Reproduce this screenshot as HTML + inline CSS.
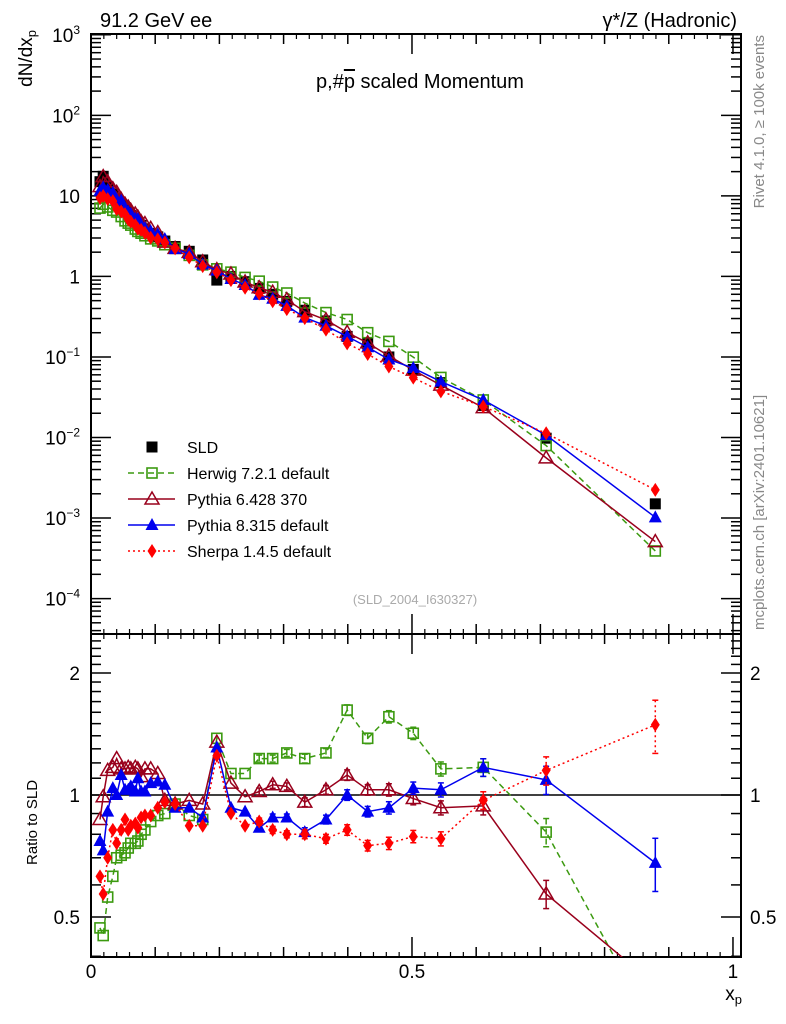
<!DOCTYPE html>
<html><head><meta charset="utf-8">
<style>
html,body{margin:0;padding:0;background:#fff;overflow:hidden;}
svg{display:block;font-family:"Liberation Sans",sans-serif;}
</style></head>
<body>
<svg id="chart" width="786" height="1024" viewBox="0 0 786 1024" xmlns="http://www.w3.org/2000/svg">
<text x="100" y="27" font-size="20">91.2 GeV ee</text>
<text x="737" y="27" font-size="20" text-anchor="end">γ*/Z (Hadronic)</text>
<text x="420" y="88" font-size="20" text-anchor="middle">p,#<tspan text-decoration="overline">p</tspan> scaled Momentum</text>
<text transform="translate(764,35) rotate(-90)" font-size="15" fill="#888" text-anchor="end">Rivet 4.1.0, ≥ 100k events</text>
<text transform="translate(764,630) rotate(-90)" font-size="15" fill="#888">mcplots.cern.ch [arXiv:2401.10621]</text>
<text x="415" y="604" font-size="13" fill="#aaa" text-anchor="middle">(SLD_2004_I630327)</text>
<text transform="translate(32,30) rotate(-90)" font-size="19" text-anchor="end">dN/dx<tspan font-size="13" dy="4">p</tspan></text>
<text transform="translate(37,865) rotate(-90)" font-size="15">Ratio to SLD</text>
<text x="742" y="1000" font-size="19" text-anchor="end">x<tspan font-size="13" dy="4">p</tspan></text>
<g id="main"></g>
<g id="ratio"></g>
<g id="legend"></g>
</svg>
<script>
const xVals=[0.014,0.019,0.026,0.034,0.040,0.047,0.053,0.058,0.062,0.069,0.073,0.078,0.084,0.093,0.104,0.115,0.131,0.153,0.174,0.196,0.218,0.240,0.262,0.283,0.305,0.333,0.366,0.399,0.431,0.464,0.502,0.545,0.611,0.709,0.879];
const sldVals=[15,17.5,13,10.5,9,7.8,6.8,6.2,5.7,5.1,4.7,4.3,3.9,3.4,3.1,2.75,2.35,2.05,1.6,0.9,1.0,0.86,0.71,0.6,0.49,0.38,0.28,0.18,0.145,0.1,0.07,0.048,0.025,0.0098,0.0015];
const herwigRatio=[0.47,0.45,0.56,0.63,0.70,0.71,0.72,0.74,0.76,0.76,0.77,0.80,0.82,0.86,0.89,0.90,0.95,0.89,0.87,1.38,1.13,1.13,1.23,1.23,1.27,1.23,1.27,1.62,1.38,1.56,1.42,1.16,1.17,0.81,0.26];
const py6Ratio=[0.87,0.99,1.15,1.17,1.23,1.16,1.16,1.17,1.16,1.17,1.16,1.11,1.16,1.16,1.13,0.97,0.95,0.97,0.95,1.35,1.07,0.99,1.02,1.06,1.05,0.96,1.03,1.12,1.03,1.03,0.98,0.93,0.94,0.57,0.34];
const py8Ratio=[0.77,0.73,0.91,1.04,1.00,1.12,1.03,1.03,1.05,1.02,1.10,1.02,1.02,1.07,1.08,1.06,0.93,0.93,0.88,1.31,0.93,0.91,0.83,0.88,0.88,0.81,0.87,1.00,0.91,0.93,1.04,1.03,1.17,1.09,0.68];
const sherpaRatio=[0.63,0.57,0.70,0.82,0.76,0.82,0.87,0.82,0.84,0.85,0.83,0.88,0.89,0.89,0.93,0.96,0.95,0.84,0.84,1.25,0.90,0.84,0.86,0.82,0.80,0.80,0.78,0.82,0.75,0.76,0.79,0.78,0.97,1.15,1.49];
const relErr=[0.01,0.01,0.01,0.01,0.01,0.01,0.01,0.01,0.01,0.01,0.01,0.01,0.01,0.01,0.01,0.01,0.01,0.01,0.01,0.015,0.015,0.015,0.02,0.02,0.02,0.025,0.025,0.03,0.03,0.035,0.035,0.04,0.05,0.08,0.15];
const mainTicks=["10<tspan dy='-8' font-size='12'>−4</tspan>","10<tspan dy='-8' font-size='12'>−3</tspan>","10<tspan dy='-8' font-size='12'>−2</tspan>","10<tspan dy='-8' font-size='12'>−1</tspan>","1","10","10<tspan dy='-8' font-size='12'>2</tspan>","10<tspan dy='-8' font-size='12'>3</tspan>"];
const ratioTicks=[0.5,1,2];
const xTickLabels=["0","0.5","1"];

const NS="http://www.w3.org/2000/svg";
const L=91,R=741,MT=34,MB=634,RT=634,RB=957;
const sx=x=>L+(x)/1.0125*(R-L);
const sy=v=>MT+(3.01-Math.log10(v))/(3.01+4.44)*(MB-MT);
const ry=v=>795-Math.log2(v)*122;
function mk(tag,attrs,parent){const e=document.createElementNS(NS,tag);for(const k in attrs)e.setAttribute(k,attrs[k]);parent.appendChild(e);return e;}
const main=document.getElementById('main'),ratio=document.getElementById('ratio'),leg=document.getElementById('legend');
const svg=document.getElementById('chart');
const defs=mk('defs',{},svg);
const c1=mk('clipPath',{id:'cm'},defs);mk('rect',{x:L,y:MT,width:R-L,height:MB-MT},c1);
const c2=mk('clipPath',{id:'cr'},defs);mk('rect',{x:L,y:RT,width:R-L,height:RB-RT},c2);
let f=mk('rect',{x:L,y:MT,width:R-L,height:MB-MT,fill:'none',stroke:'#000','stroke-width':2},main);

f=mk('rect',{x:L,y:RT,width:R-L,height:RB-RT,fill:'none',stroke:'#000','stroke-width':2},ratio);

for(let d=-5;d<=3;d++){for(let m=1;m<10;m++){const v=m*Math.pow(10,d);if(v<Math.pow(10,-4.44)||v>1000.1)continue;const y=sy(v);const len=m==1?20:10;
mk('line',{x1:L,x2:L+len,y1:y,y2:y,stroke:'#000','stroke-width':1.5},main);mk('line',{x1:R,x2:R-len,y1:y,y2:y,stroke:'#000','stroke-width':1.5},main);}}
mainTicks.forEach((t,i)=>{const y=sy(Math.pow(10,i-4));const e=mk('text',{x:80,y:y+7,'font-size':19,'text-anchor':'end'},main);e.innerHTML=t;
});
for(let v=0.4;v<=2.5;v+=0.1){const y=ry(v);if(y<RT||y>RB)continue;const major=Math.abs(v-0.5)<1e-6||Math.abs(v-1)<1e-6||Math.abs(v-2)<1e-6;const len=major?20:10;
mk('line',{x1:L,x2:L+len,y1:y,y2:y,stroke:'#000','stroke-width':1.5},ratio);mk('line',{x1:R,x2:R-len,y1:y,y2:y,stroke:'#000','stroke-width':1.5},ratio);}
ratioTicks.forEach(v=>{const y=ry(v)+7;let e=mk('text',{x:80,y:y,'font-size':19,'text-anchor':'end'},ratio);e.textContent=String(v);

e=mk('text',{x:750,y:y,'font-size':19},ratio);e.textContent=String(v);
});
for(let i=0;i<=10;i++){const x=sx(i*0.1);const len=(i%5==0)?20:10;
[[MT,1],[MB,-1],[RT,1],[RB,-1]].forEach(([y0,s])=>mk('line',{x1:x,x2:x,y1:y0,y2:y0+s*len,stroke:'#000','stroke-width':1.5},main));}
for(let i=0;i<=50;i++){const x=sx(i*0.02);if(i%5==0)continue;[[MT,1],[MB,-1],[RT,1],[RB,-1]].forEach(([y0,s])=>mk('line',{x1:x,x2:x,y1:y0,y2:y0+s*5,stroke:'#000','stroke-width':1.2},main));}
xTickLabels.forEach((t,i)=>{const e=mk('text',{x:sx(i*0.5),y:978,'font-size':19,'text-anchor':'middle'},ratio);e.textContent=t;
});
f=mk('line',{x1:L,x2:R,y1:ry(1),y2:ry(1),stroke:'#000','stroke-width':1.5},ratio);


function marker(g,type,x,y,col){let e;
if(type=='sq')e=mk('rect',{x:x-5.5,y:y-5.5,width:11,height:11,fill:'#000'},g);
else if(type=='osq')e=mk('rect',{x:x-5,y:y-5,width:10,height:10,fill:'none',stroke:col,'stroke-width':1.6},g);
else if(type=='otri')e=mk('polygon',{points:`${x},${y-7} ${x-7},${y+5} ${x+7},${y+5}`,fill:'none',stroke:col,'stroke-width':1.5},g);
else if(type=='tri')e=mk('polygon',{points:`${x},${y-7} ${x-6.5},${y+5} ${x+6.5},${y+5}`,fill:col},g);
else e=mk('polygon',{points:`${x},${y-7} ${x-4.5},${y} ${x},${y+7} ${x+4.5},${y}`,fill:col},g);
return e;}
const gs=mk('g',{'clip-path':'url(#cm)'},main);
xVals.forEach((x,i)=>{const a=marker(gs,'sq',sx(x),sy(sldVals[i]),'#000');});
const series=[
 {name:'herwig',label:'Herwig 7.2.1 default',r:herwigRatio,col:'#3c9a10',m:'osq',dash:'6,4'},
 {name:'pythia6',label:'Pythia 6.428 370',r:py6Ratio,col:'#99001c',m:'otri',dash:''},
 {name:'pythia8',label:'Pythia 8.315 default',r:py8Ratio,col:'#0000ee',m:'tri',dash:''},
 {name:'sherpa',label:'Sherpa 1.4.5 default',r:sherpaRatio,col:'#ff0000',m:'dia',dash:'2,3'}];
series.forEach(s=>{
 const gm=mk('g',{'clip-path':'url(#cm)'},main);
 const gr=mk('g',{'clip-path':'url(#cr)'},ratio);
 const pm=xVals.map((x,i)=>sx(x)+','+sy(sldVals[i]*s.r[i])).join(' ');
 const pr=xVals.map((x,i)=>sx(x)+','+ry(s.r[i])).join(' ');
 let l=mk('polyline',{points:pm,fill:'none',stroke:s.col,'stroke-width':1.5,'stroke-dasharray':s.dash},gm);
 
 l=mk('polyline',{points:pr,fill:'none',stroke:s.col,'stroke-width':1.5,'stroke-dasharray':s.dash},gr);
 
 xVals.forEach((x,i)=>{const v=s.r[i],e=relErr[i]*v*1.0;
  if(relErr[i]>0.015){mk('line',{x1:sx(x),x2:sx(x),y1:ry(v+e),y2:ry(v-e),stroke:s.col,'stroke-width':1.5,'stroke-dasharray':s.dash},gr);
   mk('line',{x1:sx(x)-3,x2:sx(x)+3,y1:ry(v+e),y2:ry(v+e),stroke:s.col,'stroke-width':1.5},gr);
   mk('line',{x1:sx(x)-3,x2:sx(x)+3,y1:ry(v-e),y2:ry(v-e),stroke:s.col,'stroke-width':1.5},gr);}
  let a=marker(gm,s.m,sx(x),sy(sldVals[i]*v),s.col);
  a=marker(gr,s.m,sx(x),ry(v),s.col);
 });
});
const entries=[{label:'SLD',m:'sq',col:'#000',dash:null}].concat(series.map(s=>({label:s.label,m:s.m,col:s.col,dash:s.dash})));
entries.forEach((en,i)=>{const y=447+i*26;const g=mk('g',{},leg);
 if(en.dash!==null)mk('line',{x1:128,x2:175,y1:y,y2:y,stroke:en.col,'stroke-width':1.5,'stroke-dasharray':en.dash},g);
 marker(g,en.m,152,y,en.col);
 const t=mk('text',{x:187,y:y+6,'font-size':16},g);t.textContent=en.label;});
</script>
</body></html>
